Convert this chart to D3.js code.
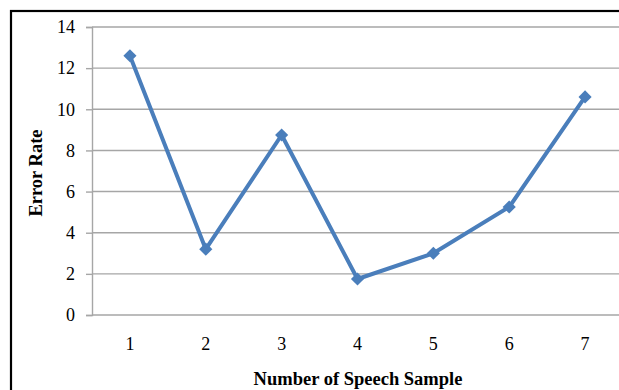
<!DOCTYPE html>
<html>
<head>
<meta charset="utf-8">
<script src="https://cdn.jsdelivr.net/npm/d3@7/dist/d3.min.js"></script>
<style>
  html, body { margin: 0; padding: 0; background: #fff; }
  svg { display: block; }
</style>
</head>
<body>
<svg id="chart" width="619" height="390"></svg>
<script>
// Error rate per speech sample
const samples = [1, 2, 3, 4, 5, 6, 7];
const errorRates = [12.6, 3.2, 8.75, 1.75, 3.0, 5.25, 10.6];
const yTicks = [0, 2, 4, 6, 8, 10, 12, 14];

const svg = d3.select("#chart");
const W = 619, H = 390;
const serif = "'Liberation Serif', 'Times New Roman', serif";

// chart frame
svg.append("rect")
  .attr("x", 11).attr("y", 11)
  .attr("width", W + 20).attr("height", H + 20)
  .attr("fill", "#fff").attr("stroke", "#000").attr("stroke-width", 2.2);

const plot = { left: 92, right: 623, top: 27, bottom: 315 };

const x = d3.scaleBand()
  .domain(samples)
  .range([plot.left, plot.right]);

const y = d3.scaleLinear()
  .domain([0, 14])
  .range([plot.bottom, plot.top]);

// horizontal gridlines
svg.append("g")
  .selectAll("line")
  .data(yTicks)
  .join("line")
  .attr("x1", plot.left).attr("x2", plot.right)
  .attr("y1", d => y(d)).attr("y2", d => y(d))
  .attr("stroke", "#a6a6a6").attr("stroke-width", 1.4);

// y axis
const yAxis = svg.append("g")
  .attr("transform", `translate(${plot.left},0)`)
  .call(d3.axisLeft(y).tickValues(yTicks).tickSize(6).tickPadding(11));
yAxis.attr("font-size", null).attr("font-family", null);
yAxis.select(".domain").attr("stroke", "#a6a6a6").attr("stroke-width", 1.4);
yAxis.selectAll(".tick line").attr("stroke", "#a6a6a6").attr("stroke-width", 1.4);
yAxis.selectAll("text")
  .style("font-family", serif)
  .style("font-size", "18px").attr("fill", "#000");

// x axis labels
const xAxis = svg.append("g")
  .attr("transform", `translate(0,${plot.bottom})`)
  .call(d3.axisBottom(x).tickSize(0).tickPadding(22));
xAxis.attr("font-size", null).attr("font-family", null);
xAxis.select(".domain").remove();
xAxis.selectAll("text")
  .style("font-family", serif)
  .style("font-size", "18px").attr("fill", "#000");

// axis titles
svg.append("text")
  .attr("transform", `translate(42,${(plot.top + plot.bottom) / 2 + 2}) rotate(-90)`)
  .attr("text-anchor", "middle")
  .style("font-family", serif)
  .style("font-weight", "bold").style("font-size", "18.5px")
  .text("Error Rate");

svg.append("text")
  .attr("x", 358).attr("y", 385)
  .attr("text-anchor", "middle")
  .style("font-family", serif)
  .style("font-weight", "bold").style("font-size", "18.5px")
  .text("Number of Speech Sample");

const cx = d => x(d) + x.bandwidth() / 2;
const blue = "#4a7ebb";
const points = samples.map((s, i) => [s, errorRates[i]]);

// series line
svg.append("path")
  .datum(points)
  .attr("fill", "none")
  .attr("stroke", blue)
  .attr("stroke-width", 4)
  .attr("stroke-linejoin", "round")
  .attr("d", d3.line().x(d => cx(d[0])).y(d => y(d[1])));

// diamond markers
svg.append("g")
  .selectAll("path")
  .data(points)
  .join("path")
  .attr("transform", d => `translate(${cx(d[0])},${y(d[1])})`)
  .attr("d", d3.symbol(d3.symbolDiamond2, 110))
  .attr("fill", blue);
</script>
</body>
</html>
